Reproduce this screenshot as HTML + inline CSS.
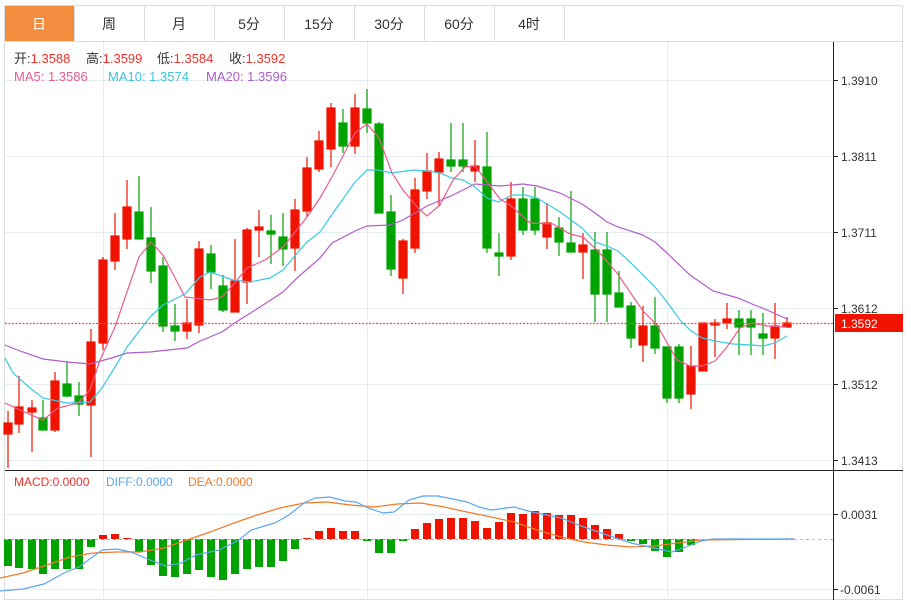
<!DOCTYPE html>
<html><head><meta charset="utf-8"><style>
html,body{margin:0;padding:0;background:#fff;}
body{width:911px;height:600px;overflow:hidden;font-family:"Liberation Sans","Noto Sans CJK SC",sans-serif;}
</style></head><body>
<svg width="911" height="600" xmlns="http://www.w3.org/2000/svg" style="position:absolute;left:0;top:0" font-family="Liberation Sans, Noto Sans CJK SC, sans-serif">
<rect x="4.5" y="5.5" width="898" height="594" fill="#fff" stroke="#dcdcdc"/>
<line x1="4" y1="41.5" x2="903" y2="41.5" stroke="#dcdcdc"/>
<rect x="5" y="6" width="69" height="35" fill="#f28c3e"/>
<g stroke="#dcdcdc"><line x1="74.5" y1="6" x2="74.5" y2="41"/><line x1="144.5" y1="6" x2="144.5" y2="41"/><line x1="214.5" y1="6" x2="214.5" y2="41"/><line x1="284.5" y1="6" x2="284.5" y2="41"/><line x1="354.5" y1="6" x2="354.5" y2="41"/><line x1="424.5" y1="6" x2="424.5" y2="41"/><line x1="494.5" y1="6" x2="494.5" y2="41"/><line x1="564.5" y1="6" x2="564.5" y2="41"/></g>
<g font-size="14" fill="#333" text-anchor="middle">
<text x="39" y="29" fill="#fff">日</text><text x="109" y="29">周</text><text x="179" y="29">月</text><text x="249" y="29">5分</text><text x="319" y="29">15分</text><text x="389" y="29">30分</text><text x="459" y="29">60分</text><text x="529" y="29">4时</text>
</g>
<g stroke="#e3edf3" stroke-width="1">
<line x1="5" y1="80.5" x2="833" y2="80.5"/><line x1="5" y1="156.5" x2="833" y2="156.5"/><line x1="5" y1="232.5" x2="833" y2="232.5"/><line x1="5" y1="308.5" x2="833" y2="308.5"/><line x1="5" y1="384.5" x2="833" y2="384.5"/><line x1="5" y1="460.5" x2="833" y2="460.5"/>
<line x1="5" y1="514.5" x2="833" y2="514.5"/><line x1="5" y1="589.5" x2="833" y2="589.5"/>
<line x1="103.5" y1="42" x2="103.5" y2="600"/><line x1="367.5" y1="42" x2="367.5" y2="600"/><line x1="667.5" y1="42" x2="667.5" y2="600"/>
</g>
<g font-size="13">
<text x="14" y="63" fill="#333">开:<tspan fill="#f0302a">1.3588</tspan></text>
<text x="86" y="63" fill="#333">高:<tspan fill="#f0302a">1.3599</tspan></text>
<text x="157" y="63" fill="#333">低:<tspan fill="#f0302a">1.3584</tspan></text>
<text x="229" y="63" fill="#333">收:<tspan fill="#f0302a">1.3592</tspan></text>
<text x="14" y="81" fill="#ec5a8c">MA5: 1.3586</text>
<text x="108" y="81" fill="#3bc3dc">MA10: 1.3574</text>
<text x="206" y="81" fill="#b05cc8">MA20: 1.3596</text>
</g>
<g stroke-width="1.2">
<g stroke="#f01400" fill="#f01400">
<line x1="8" y1="411" x2="8" y2="468"/><rect x="4" y="423" width="8" height="11"/>
<line x1="19" y1="376" x2="19" y2="433"/><rect x="15" y="407" width="8" height="17"/>
<line x1="32" y1="400" x2="32" y2="452"/><rect x="28" y="408" width="8" height="4"/>
<line x1="55" y1="372" x2="55" y2="432"/><rect x="51" y="381" width="8" height="49"/>
<line x1="91" y1="329" x2="91" y2="457"/><rect x="87" y="342" width="8" height="63"/>
<line x1="103" y1="257" x2="103" y2="350"/><rect x="99" y="260" width="8" height="83"/>
<line x1="115" y1="213" x2="115" y2="270"/><rect x="111" y="236" width="8" height="25"/>
<line x1="127" y1="180" x2="127" y2="249"/><rect x="123" y="207" width="8" height="32"/>
<line x1="187" y1="299" x2="187" y2="339"/><rect x="183" y="323" width="8" height="8"/>
<line x1="199" y1="241" x2="199" y2="333"/><rect x="195" y="249" width="8" height="76"/>
<line x1="235" y1="239" x2="235" y2="312"/><rect x="231" y="281" width="8" height="31"/>
<line x1="247" y1="228" x2="247" y2="304"/><rect x="243" y="230" width="8" height="52"/>
<line x1="259" y1="210" x2="259" y2="257"/><rect x="255" y="227" width="8" height="3"/>
<line x1="295" y1="199" x2="295" y2="271"/><rect x="291" y="210" width="8" height="38"/>
<line x1="307" y1="157" x2="307" y2="217"/><rect x="303" y="168" width="8" height="43"/>
<line x1="319" y1="131" x2="319" y2="172"/><rect x="315" y="141" width="8" height="28"/>
<line x1="331" y1="103" x2="331" y2="167"/><rect x="327" y="108" width="8" height="41"/>
<line x1="355" y1="94" x2="355" y2="154"/><rect x="351" y="108" width="8" height="38"/>
<line x1="403" y1="239" x2="403" y2="294"/><rect x="399" y="241" width="8" height="37"/>
<line x1="415" y1="178" x2="415" y2="253"/><rect x="411" y="190" width="8" height="58"/>
<line x1="427" y1="153" x2="427" y2="199"/><rect x="423" y="171" width="8" height="20"/>
<line x1="439" y1="152" x2="439" y2="206"/><rect x="435" y="159" width="8" height="13"/>
<line x1="475" y1="140" x2="475" y2="182"/><rect x="471" y="166" width="8" height="5"/>
<line x1="511" y1="182" x2="511" y2="260"/><rect x="507" y="199" width="8" height="57"/>
<line x1="547" y1="203" x2="547" y2="249"/><rect x="543" y="223" width="8" height="14"/>
<line x1="583" y1="233" x2="583" y2="279"/><rect x="579" y="245" width="8" height="7"/>
<line x1="643" y1="306" x2="643" y2="362"/><rect x="639" y="326" width="8" height="19"/>
<line x1="691" y1="346" x2="691" y2="409"/><rect x="687" y="366" width="8" height="28"/>
<line x1="703" y1="323" x2="703" y2="371"/><rect x="699" y="323" width="8" height="48"/>
<line x1="715" y1="319" x2="715" y2="357"/><rect x="711" y="323" width="8" height="2"/>
<line x1="727" y1="303" x2="727" y2="329"/><rect x="723" y="319" width="8" height="4"/>
<line x1="775" y1="303" x2="775" y2="359"/><rect x="771" y="326" width="8" height="12"/>
<line x1="787" y1="317" x2="787" y2="328"/><rect x="783" y="323" width="8" height="4"/>
</g>
<g stroke="#00a300" fill="#00a300">
<line x1="43" y1="400" x2="43" y2="430"/><rect x="39" y="418" width="8" height="12"/>
<line x1="67" y1="361" x2="67" y2="397"/><rect x="63" y="384" width="8" height="12"/>
<line x1="79" y1="382" x2="79" y2="416"/><rect x="75" y="396" width="8" height="8"/>
<line x1="139" y1="176" x2="139" y2="239"/><rect x="135" y="212" width="8" height="27"/>
<line x1="151" y1="207" x2="151" y2="283"/><rect x="147" y="238" width="8" height="33"/>
<line x1="163" y1="257" x2="163" y2="332"/><rect x="159" y="266" width="8" height="60"/>
<line x1="175" y1="304" x2="175" y2="341"/><rect x="171" y="326" width="8" height="5"/>
<line x1="211" y1="245" x2="211" y2="289"/><rect x="207" y="254" width="8" height="18"/>
<line x1="223" y1="275" x2="223" y2="312"/><rect x="219" y="286" width="8" height="24"/>
<line x1="271" y1="215" x2="271" y2="264"/><rect x="267" y="231" width="8" height="3"/>
<line x1="283" y1="213" x2="283" y2="266"/><rect x="279" y="237" width="8" height="12"/>
<line x1="343" y1="109" x2="343" y2="153"/><rect x="339" y="123" width="8" height="23"/>
<line x1="367" y1="89" x2="367" y2="133"/><rect x="363" y="109" width="8" height="14"/>
<line x1="379" y1="122" x2="379" y2="213"/><rect x="375" y="124" width="8" height="89"/>
<line x1="391" y1="195" x2="391" y2="276"/><rect x="387" y="212" width="8" height="57"/>
<line x1="451" y1="123" x2="451" y2="172"/><rect x="447" y="160" width="8" height="6"/>
<line x1="463" y1="123" x2="463" y2="172"/><rect x="459" y="160" width="8" height="6"/>
<line x1="487" y1="132" x2="487" y2="253"/><rect x="483" y="167" width="8" height="81"/>
<line x1="499" y1="233" x2="499" y2="276"/><rect x="495" y="253" width="8" height="3"/>
<line x1="523" y1="187" x2="523" y2="235"/><rect x="519" y="199" width="8" height="31"/>
<line x1="535" y1="187" x2="535" y2="235"/><rect x="531" y="199" width="8" height="31"/>
<line x1="559" y1="217" x2="559" y2="256"/><rect x="555" y="228" width="8" height="14"/>
<line x1="571" y1="191" x2="571" y2="252"/><rect x="567" y="243" width="8" height="9"/>
<line x1="595" y1="232" x2="595" y2="322"/><rect x="591" y="250" width="8" height="44"/>
<line x1="607" y1="232" x2="607" y2="322"/><rect x="603" y="250" width="8" height="44"/>
<line x1="619" y1="271" x2="619" y2="307"/><rect x="615" y="293" width="8" height="14"/>
<line x1="631" y1="302" x2="631" y2="348"/><rect x="627" y="306" width="8" height="32"/>
<line x1="655" y1="297" x2="655" y2="354"/><rect x="651" y="326" width="8" height="22"/>
<line x1="667" y1="347" x2="667" y2="403"/><rect x="663" y="347" width="8" height="51"/>
<line x1="679" y1="344" x2="679" y2="403"/><rect x="675" y="347" width="8" height="51"/>
<line x1="739" y1="310" x2="739" y2="355"/><rect x="735" y="319" width="8" height="8"/>
<line x1="751" y1="310" x2="751" y2="355"/><rect x="747" y="319" width="8" height="8"/>
<line x1="763" y1="313" x2="763" y2="355"/><rect x="759" y="334" width="8" height="4"/>
</g>
</g>
<g fill="none" stroke-width="1.2">
<polyline stroke="#b05cc8" points="5,345 20,351 43,359 67,362 90,364 115,357 127,353 150,352 187,348 200,341 222,332 233,324 260,307 283,292 297,278 320,258 332,243 355,231 367,226 390,225 403,220 427,206 453,195 475,184 500,186 523,184 537,186 560,193 582,204 595,213 607,222 618,227 643,235 655,242 667,253 690,275 713,291 738,298 752,304 767,310 787,319"/>
<polyline stroke="#3bc9e0" points="5,358 13,373 30,388 43,398 67,403 90,402 102,388 115,367 127,347 150,317 163,305 185,294 200,277 210,272 233,280 250,282 270,278 283,270 293,258 307,242 320,232 333,213 355,182 367,170 378,170 392,173 413,170 427,171 440,173 452,178 463,180 475,187 487,198 498,202 512,195 525,195 537,198 547,204 560,212 582,228 595,242 607,246 618,251 632,264 643,275 655,287 667,302 680,320 690,330 702,338 715,341 733,344 752,345 763,346 775,343 787,336"/>
<polyline stroke="#ec5a8c" points="5,403 20,410 43,420 58,408 78,403 90,390 100,360 115,327 139,257 151,242 163,255 185,297 210,300 222,297 233,285 247,268 265,260 283,247 307,217 320,198 333,175 355,133 367,124 379,138 392,173 403,190 418,208 427,216 440,205 453,180 465,167 475,166 500,199 510,205 530,223 553,224 570,234 583,237 597,250 617,273 643,311 657,325 677,360 690,366 702,366 715,361 727,347 740,328 752,323 767,326 787,327"/>
</g>
<line x1="5" y1="323.5" x2="833" y2="323.5" stroke="#f05050" stroke-dasharray="2,1.5" stroke-width="1.2"/>
<g fill="#00a300">
<rect x="4" y="539" width="8" height="27"/><rect x="15" y="539" width="8" height="29"/><rect x="28" y="539" width="8" height="30"/><rect x="39" y="539" width="8" height="35"/><rect x="51" y="539" width="8" height="30"/><rect x="63" y="539" width="8" height="30"/><rect x="75" y="539" width="8" height="30"/><rect x="87" y="539" width="8" height="8"/>
<rect x="135" y="539" width="8" height="13"/><rect x="147" y="539" width="8" height="26"/><rect x="159" y="539" width="8" height="37"/><rect x="171" y="539" width="8" height="38"/><rect x="183" y="539" width="8" height="35"/><rect x="195" y="539" width="8" height="31"/><rect x="207" y="539" width="8" height="38"/><rect x="219" y="539" width="8" height="41"/><rect x="231" y="539" width="8" height="35"/><rect x="243" y="539" width="8" height="30"/><rect x="255" y="539" width="8" height="28"/><rect x="267" y="539" width="8" height="28"/><rect x="279" y="539" width="8" height="22"/><rect x="291" y="539" width="8" height="10"/>
<rect x="363" y="539" width="8" height="2"/><rect x="375" y="539" width="8" height="14"/><rect x="387" y="539" width="8" height="14"/><rect x="399" y="539" width="8" height="2"/>
<rect x="627" y="539" width="8" height="2"/><rect x="639" y="539" width="8" height="5"/><rect x="651" y="539" width="8" height="12"/><rect x="663" y="539" width="8" height="18"/><rect x="675" y="539" width="8" height="13"/><rect x="687" y="539" width="8" height="6"/>
</g>
<g fill="#f01400">
<rect x="99" y="535" width="8" height="4"/><rect x="111" y="534" width="8" height="5"/><rect x="123" y="538" width="8" height="1"/>
<rect x="303" y="538" width="8" height="1"/><rect x="315" y="531" width="8" height="8"/><rect x="327" y="528" width="8" height="11"/><rect x="339" y="531" width="8" height="8"/><rect x="351" y="531" width="8" height="8"/>
<rect x="411" y="529" width="8" height="10"/><rect x="423" y="523" width="8" height="16"/><rect x="435" y="519" width="8" height="20"/><rect x="447" y="518" width="8" height="21"/><rect x="459" y="518" width="8" height="21"/><rect x="471" y="521" width="8" height="18"/><rect x="483" y="528" width="8" height="11"/><rect x="495" y="522" width="8" height="17"/><rect x="507" y="513" width="8" height="26"/><rect x="519" y="514" width="8" height="25"/><rect x="531" y="511" width="8" height="28"/><rect x="543" y="513" width="8" height="26"/><rect x="555" y="515" width="8" height="24"/><rect x="567" y="515" width="8" height="24"/><rect x="579" y="518" width="8" height="21"/><rect x="591" y="525" width="8" height="14"/><rect x="603" y="529" width="8" height="10"/><rect x="615" y="534" width="8" height="5"/>
</g>
<line x1="5" y1="539.5" x2="794" y2="539.5" stroke="#9ad" stroke-dasharray="3,3" stroke-width="1"/>
<line x1="794" y1="539.5" x2="833" y2="539.5" stroke="#8cc6ee" stroke-dasharray="3,3"/>
<g fill="none" stroke-width="1.2">
<polyline stroke="#f07a28" points="0,578 23,573 47,565 70,557 93,553 117,552 140,552 164,548 187,540 210,532 234,523 257,515 280,508 304,503 327,502 350,505 374,507 397,504 421,503 444,507 467,512 491,517 514,522 537,530 561,537 584,542 607,545 631,547 654,546 678,543 701,540 794,539"/>
<polyline stroke="#5aa7ef" points="0,591 23,589 44,584 64,573 79,567 102,550 117,549 131,552 155,562 166,566 181,563 196,555 219,550 239,540 251,530 275,523 289,515 304,503 315,498 330,497 345,501 356,502 368,508 383,513 394,512 409,500 423,496 438,496 453,499 467,502 479,507 491,510 514,507 532,512 561,518 584,527 607,535 631,543 654,548 672,552 686,547 701,541 713,539 794,539"/>
</g>
<line x1="5" y1="470.5" x2="903" y2="470.5" stroke="#222"/>
<line x1="833.5" y1="42" x2="833.5" y2="600" stroke="#222"/>
<g stroke="#222"><line x1="833" y1="80.5" x2="838" y2="80.5"/><line x1="833" y1="156.5" x2="838" y2="156.5"/><line x1="833" y1="232.5" x2="838" y2="232.5"/><line x1="833" y1="308.5" x2="838" y2="308.5"/><line x1="833" y1="384.5" x2="838" y2="384.5"/><line x1="833" y1="460.5" x2="838" y2="460.5"/><line x1="833" y1="514.5" x2="838" y2="514.5"/><line x1="833" y1="589.5" x2="838" y2="589.5"/></g>
<g font-size="12" fill="#333">
<text x="841" y="85">1.3910</text><text x="841" y="161">1.3811</text><text x="841" y="237">1.3711</text><text x="841" y="313">1.3612</text><text x="841" y="389">1.3512</text><text x="841" y="465">1.3413</text>
<text x="841" y="519">0.0031</text><text x="840" y="594">-0.0061</text>
</g>
<rect x="835" y="314" width="68" height="18" fill="#f01400"/>
<text x="841" y="328" font-size="12" fill="#fff">1.3592</text>
<g font-size="12">
<text x="14" y="486" fill="#f0302a">MACD:0.0000</text><text x="106" y="486" fill="#5aa7ef">DIFF:0.0000</text><text x="188" y="486" fill="#f07a28">DEA:0.0000</text>
</g>
</svg>
</body></html>
